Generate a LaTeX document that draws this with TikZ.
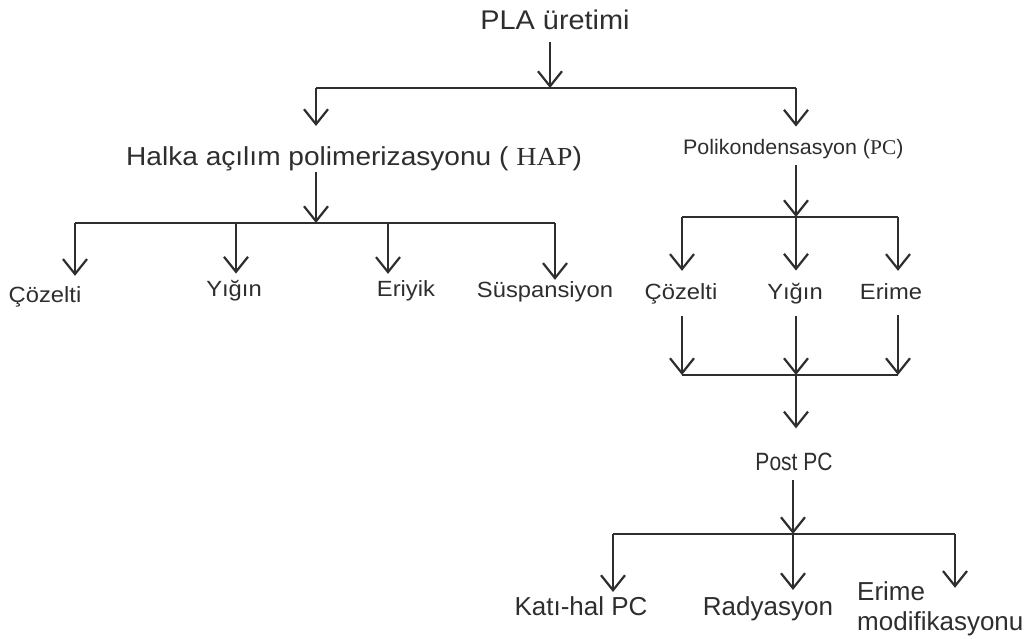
\documentclass[tikz,border=0pt]{standalone}
\usepackage{fontspec}
\usepackage{graphicx}
\setmainfont{Liberation Sans}
\newfontfamily\serifpart{Liberation Serif}
\usetikzlibrary{arrows.meta}
\definecolor{ink}{HTML}{2E2E2E}
\newcommand{\stx}[3]{\scalebox{#2}[1]{\fontsize{#1bp}{#1bp}\selectfont #3}}
\begin{document}
\begin{tikzpicture}[x=1bp,y=1bp,
  ln/.style={draw=ink, line width=2.2bp},
  arr/.style={ln, -{Straight Barb[length=15bp,width=24bp,line width=2.2bp]}},
  lbl/.style={anchor=base, inner sep=0pt, text=ink},
  gap/.style={shorten >=#1},
  sgap/.style={shorten <=#1},
]
\useasboundingbox[fill=white] (0,0) rectangle (1034,-639);

% text nodes
\node[lbl] (pla) at (555,-30) {\stx{27}{1.07}{PLA üretimi}};
\node[lbl, anchor=base west] (hap) at (126,-166) {\stx{26}{1.08}{Halka açılım polimerizasyonu ( {\serifpart HAP})}};
\node[lbl, anchor=base west] (pc) at (683,-155) {\stx{21}{1.02}{Polikondensasyon ({\serifpart PC})}};

\node[lbl] (c1) at (45,-303) {\stx{22}{1.08}{Çözelti}};
\node[lbl] (y1) at (234,-297) {\stx{22}{1.08}{Yığın}};
\node[lbl] (e1) at (406,-297) {\stx{22}{1.08}{Eriyik}};
\node[lbl] (s1) at (545,-298) {\stx{22}{1.08}{Süspansiyon}};

\node[lbl] (c2) at (681,-300) {\stx{22}{1.08}{Çözelti}};
\node[lbl] (y2) at (795,-300) {\stx{22}{1.08}{Yığın}};
\node[lbl] (e2) at (891,-300) {\stx{22}{1.08}{Erime}};

\node[lbl] (post) at (794,-470) {\stx{25}{0.84}{Post PC}};

\node[lbl] (k) at (581,-615) {\stx{26}{1}{Katı-hal PC}};
\node[lbl] (r) at (768,-615) {\stx{26}{1}{Radyasyon}};
\node[lbl, anchor=base west] (em) at (857,-600) {\fontsize{26bp}{30bp}\selectfont\begin{tabular}[t]{@{}l@{}}Erime\\modifikasyonu\end{tabular}};

% junctions
\coordinate (jT) at (550,-88);
\coordinate (jL) at (316,-88);
\coordinate (jR) at (796,-88);
\coordinate (jH) at (316,-223);
\coordinate (a1) at (75,-223);
\coordinate (a2) at (236,-223);
\coordinate (a3) at (388,-223);
\coordinate (a4) at (555,-223);
\coordinate (b1) at (682,-217);
\coordinate (b2) at (796,-217);
\coordinate (b3) at (898,-217);
\coordinate (d1) at (682,-375);
\coordinate (d2) at (796,-375);
\coordinate (d3) at (898,-375);
\coordinate (f1) at (613,-534);
\coordinate (f2) at (793,-534);
\coordinate (f3) at (955,-534);

% connectors
\draw[arr, sgap=12bp] (pla.south -| jT) -- (jT);
\draw[ln] (jL) -- (jR);
\draw[arr, gap=21bp] (jL) -- (jL |- hap.north);
\draw[arr, gap=13bp] (jR) -- (jR |- pc.north);

\draw[arr] (hap.south -| jH) -- (jH);
\draw[ln] (a1) -- (a4);
\draw[arr, gap=11bp] (a1) -- (a1 |- c1.north);
\draw[arr, gap=7bp] (a2) -- (a2 |- y1.north);
\draw[arr, gap=7bp] (a3) -- (a3 |- e1.north);
\draw[arr, gap=2bp] (a4) -- (a4 |- s1.north);

\draw[arr, sgap=5bp] (pc.south -| b2) -- (b2);
\draw[ln] (b1) -- (b3);
\draw[arr, gap=13bp] (b1) -- (b1 |- c2.north);
\draw[arr, gap=13bp] (b2) -- (b2 |- y2.north);
\draw[arr, gap=13bp] (b3) -- (b3 |- e2.north);

\draw[arr, sgap=11bp] (c2.south -| d1) -- (d1);
\draw[arr, sgap=11bp] (y2.south -| d2) -- (d2);
\draw[arr, sgap=15bp] (e2.south -| d3) -- (d3);
\draw[ln] (d1) -- (d3);
\draw[arr, gap=24bp] (d2) -- (d2 |- post.north);

\draw[arr, sgap=10bp] (post.south -| f2) -- (f2);
\draw[ln] (f1) -- (f3);
\draw[arr, gap=4bp] (f1) -- (f1 |- k.north);
\draw[arr, gap=6bp] (f2) -- (f2 |- r.north);
\draw[arr, gap=-9bp] (f3) -- (f3 |- em.north);
\end{tikzpicture}
\end{document}
